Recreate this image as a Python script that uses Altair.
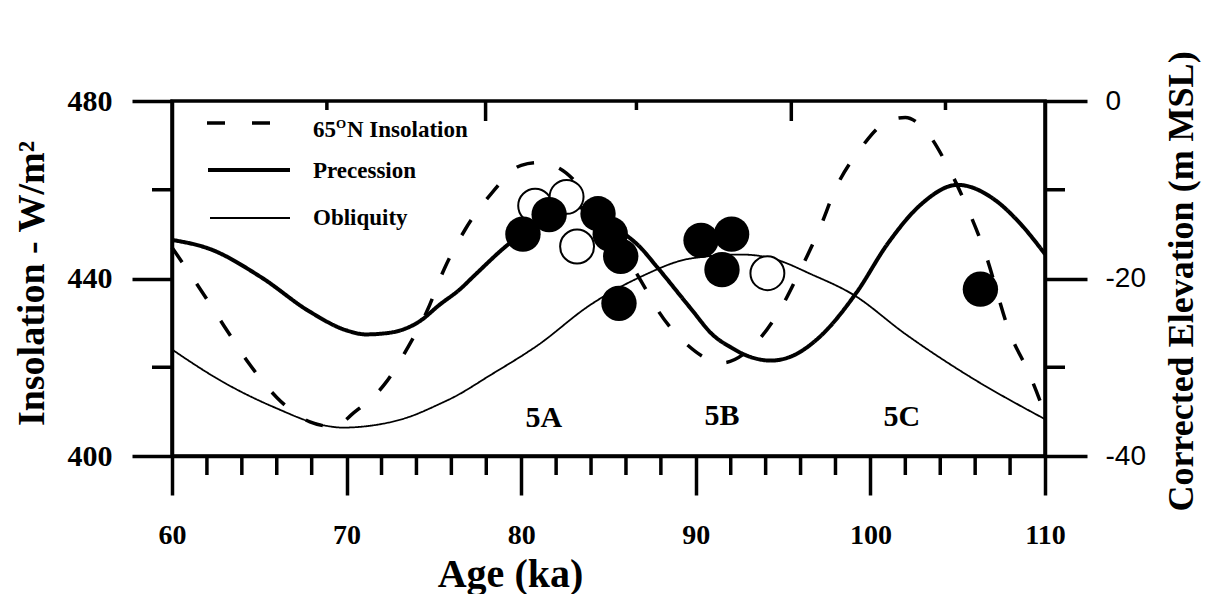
import altair as alt
import pandas as pd

# ---------------- data ----------------
# 65N insolation (dashed)
ins_age = [60, 61.6, 63, 64.4, 66, 67.9, 69.3, 70.4, 72.2, 73.5, 74.6, 75.6, 76.8, 78.3,
           80, 81, 82.2, 84, 85, 86, 87, 87.8, 89.5, 91.5, 93.4, 95, 96, 97.1, 98, 99.4,
           101.1, 102, 103.1, 104.4, 105.5, 106.5, 108, 109.1, 110]
ins_val = [447, 437.7, 429.2, 420.9, 413.2, 407.7, 406.6, 409.7, 416.3, 424.4, 432.6, 442.2, 451.1, 459.2,
           465.5, 466.1, 464.8, 457.5, 451.7, 445.2, 438.5, 433, 425.1, 421, 425.3, 434.2, 442, 451.3, 460.2, 469.1,
           475.7, 476.3, 473.6, 465.5, 456.4, 446.6, 427.6, 418.5, 409.5]

# Precession (thick solid)
pre_age = [60, 62.2, 65.1, 67.9, 70, 71.1, 72.5, 74.2, 75.3, 76.5, 77.3, 79.2, 80.1, 81, 82, 83,
           84, 85, 86, 86.7, 87.8, 89.7, 91, 92, 93, 94.3, 95.5, 97, 99.2, 101, 102.9, 105,
           107.1, 108.6, 110]
pre_val = [448.7, 446.6, 440.3, 432.5, 428.3, 427.4, 427.8, 430.4, 434, 437.6, 440.6, 447.5, 450.2, 453, 455.5, 456.3,
           455, 452.5, 449.8, 447.5, 442.5, 433.3, 427.2, 424.5, 422.5, 421.5, 422.5, 426.5, 436.8, 447.9, 456.7, 461.1,
           457.8, 452.3, 445.5]

# Obliquity (thin solid)
obl_age = [60, 63, 65.9, 68.7, 69.8, 71.5, 73.5, 75.2, 76.3, 78.1, 81, 83.9, 86.8, 89.7,
           92.6, 94.3, 96.7, 99, 102, 105.6, 110]
obl_val = [424, 416.5, 410.9, 406.9, 406.4, 406.9, 408.7, 411.5, 413.6, 417.9, 425.1, 433.9, 440.3, 444.5,
           445.4, 444.6, 440.8, 436.4, 427.5, 418.1, 408.3]

# Corrected elevations (m MSL)
filled_age = [80.1, 81.6, 84.4, 85.1, 85.7, 85.6, 90.3, 92.05, 91.5, 106.3]
filled_elev = [-15.0, -12.8, -12.7, -15.0, -17.5, -22.8, -15.7, -15.0, -19.0, -21.2]
open_age = [80.8, 82.6, 83.2, 94.1]
open_elev = [-11.8, -10.8, -16.4, -19.4]

# substage labels
stage_txt = ["5A", "5B", "5C"]
stage_age = [81.3, 91.5, 101.8]
stage_val = [408.5, 409.0, 408.7]

# axis ticks
x_major = [60, 70, 80, 90, 100, 110]
x_minor = [62, 64, 66, 68, 72, 74, 76, 78, 82, 84, 86, 88, 92, 94, 96, 98, 102, 104, 106, 108]
yl_major = [400, 440, 480]
yl_minor = [420, 460]
yr_major = [-40, -20, 0]
yr_minor = [-30, -10]
top_long = [77.96, 95.47]
top_short = [68.87, 86.6, 104.3]

legend_txt = ["Precession", "Obliquity"]

# ---------------- chart ----------------
W, H = 873, 355
SERIF = "Liberation Serif"
SANS = "Liberation Sans"
AXW = 3.5

xs = alt.Scale(domain=[60, 110], nice=False, zero=False)
yls = alt.Scale(domain=[400, 480], nice=False, zero=False)
yrs = alt.Scale(domain=[-40, 0], nice=False, zero=False)

x_axis = alt.Axis(values=x_major, tickSize=39, tickWidth=AXW, tickColor="black",
                  domainWidth=AXW, domainColor="black", grid=False,
                  labelFont=SERIF, labelFontWeight="bold", labelFontSize=28, labelColor="black",
                  labelPadding=26, labelFlush=False,
                  title="Age (ka)", titleFont=SERIF, titleFontWeight="bold", titleFontSize=40,
                  titleColor="black", titleX=338, titleY=118, titleBaseline="middle", titleAlign="center")

yl_axis = alt.Axis(values=yl_major, tickSize=40, tickWidth=AXW, tickColor="black",
                   domainWidth=AXW, domainColor="black", grid=False, orient="left",
                   labelFont=SERIF, labelFontWeight="bold", labelFontSize=30, labelColor="black",
                   labelPadding=20, labelFlush=False,
                   title="Insolation - W/m²", titleFont=SERIF, titleFontWeight="bold", titleFontSize=38,
                   titleColor="black", titleAngle=270, titleX=-140, titleY=182,
                   titleBaseline="middle", titleAlign="center")

yr_axis = alt.Axis(values=yr_major, tickSize=42, tickWidth=AXW, tickColor="black",
                   domainWidth=AXW, domainColor="black", grid=False, orient="right",
                   labelFont=SANS, labelFontWeight="normal", labelFontSize=28, labelColor="black",
                   labelPadding=18, labelFlush=False, labelExpr="'' + datum.value",
                   title="Corrected Elevation (m MSL)", titleFont=SERIF, titleFontWeight="bold",
                   titleFontSize=36, titleColor="black", titleAngle=270, titleX=136, titleY=180,
                   titleBaseline="middle", titleAlign="center")

X = lambda f: alt.X(f, scale=xs, axis=x_axis)
YL = lambda f: alt.Y(f, scale=yls, axis=yl_axis)
YR = lambda f: alt.Y(f, scale=yrs, axis=yr_axis)


def line(ages, vals, width, dash):
    df = pd.DataFrame({"age": ages, "val": vals})
    return alt.Chart(df).mark_line(color="black", strokeWidth=width, strokeDash=dash,
                                   interpolate="monotone", strokeCap="butt").encode(
        x=X("age:Q"), y=YL("val:Q"))


dashed = line(ins_age, ins_val, 3.5, [18, 26])
prec = line(pre_age, pre_val, 4, [1, 0])
obl = line(obl_age, obl_val, 1.8, [1, 0])

stages = alt.Chart(pd.DataFrame({"age": stage_age, "val": stage_val, "t": stage_txt})).mark_text(
    font=SERIF, fontWeight="bold", fontSize=30, color="black", align="center", baseline="middle"
).encode(x=X("age:Q"), y=YL("val:Q"), text="t:N")

xminor = alt.Chart(pd.DataFrame({"age": x_minor})).mark_rule(color="black", strokeWidth=AXW).encode(
    x=X("age:Q"), y=alt.value(H), y2=alt.value(H + 19))

yminor = alt.Chart(pd.DataFrame({"val": yl_minor})).mark_rule(color="black", strokeWidth=AXW).encode(
    y=YL("val:Q"), x=alt.value(0), x2=alt.value(-20))

tlong = alt.Chart(pd.DataFrame({"age": top_long})).mark_rule(color="black", strokeWidth=AXW).encode(
    x=X("age:Q"), y=alt.value(0), y2=alt.value(20))
tshort = alt.Chart(pd.DataFrame({"age": top_short})).mark_rule(color="black", strokeWidth=AXW).encode(
    x=X("age:Q"), y=alt.value(0), y2=alt.value(9))

one = pd.DataFrame({"a": [0]})
leg_dash = alt.Chart(one).mark_rule(color="black", strokeWidth=3.5, strokeDash=[18, 27], strokeCap="butt").encode(
    x=alt.value(35), x2=alt.value(98), y=alt.value(22))
leg_prec = alt.Chart(one).mark_rule(color="black", strokeWidth=4).encode(
    x=alt.value(36), x2=alt.value(118), y=alt.value(69))
leg_obl = alt.Chart(one).mark_rule(color="black", strokeWidth=1.8).encode(
    x=alt.value(38), x2=alt.value(118), y=alt.value(117))


def ltext(t, x, y, size):
    return alt.Chart(pd.DataFrame({"t": [t]})).mark_text(
        font=SERIF, fontWeight="bold", fontSize=size, color="black", align="left", baseline="alphabetic"
    ).encode(x=alt.value(x), y=alt.value(y), text="t:N")


leg_t1a = ltext("65", 141, 36, 23)
leg_t1b = ltext("O", 164, 27, 13)
leg_t1c = ltext("N Insolation", 175, 36, 23)
leg_t2 = ltext(legend_txt[0], 141, 77, 23)
leg_t3 = ltext(legend_txt[1], 141, 124, 23)

left = alt.layer(dashed, prec, obl, stages, xminor, yminor, tlong, tshort,
                 leg_dash, leg_prec, leg_obl, leg_t1a, leg_t1b, leg_t1c, leg_t2, leg_t3)

open_pts = alt.Chart(pd.DataFrame({"age": open_age, "elev": open_elev})).mark_circle(
    fill="white", stroke="black", strokeWidth=2, opacity=1, size=1150
).encode(x=X("age:Q"), y=YR("elev:Q"))

filled_pts = alt.Chart(pd.DataFrame({"age": filled_age, "elev": filled_elev})).mark_circle(
    color="black", opacity=1, size=1250
).encode(x=X("age:Q"), y=YR("elev:Q"))

rminor = alt.Chart(pd.DataFrame({"elev": yr_minor})).mark_rule(color="black", strokeWidth=AXW).encode(
    y=YR("elev:Q"), x=alt.value(W), x2=alt.value(W + 20))

right = alt.layer(open_pts, filled_pts, rminor)

chart = alt.layer(left, right).resolve_scale(y="independent").properties(
    width=W, height=H,
    padding={"left": 164, "top": 93, "right": 158, "bottom": 138},
    autosize=alt.AutoSizeParams(type="none"),
    background="white",
).configure_view(stroke="black", strokeWidth=AXW)

chart.save("out.html", embed_options={"renderer": "svg", "actions": False})
